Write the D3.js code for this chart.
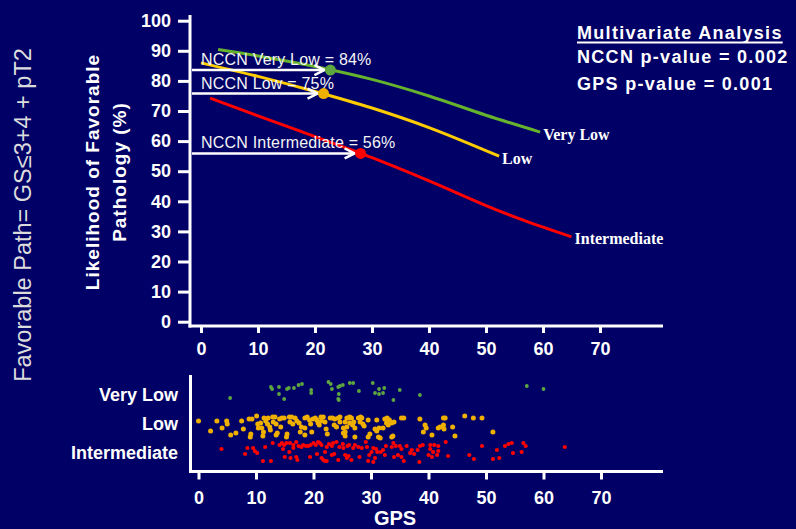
<!DOCTYPE html>
<html>
<head>
<meta charset="utf-8">
<script src="https://cdn.jsdelivr.net/npm/d3@7"></script>
<style>
  body { margin: 0; background: #000066; }
  svg { display: block; font-family: "Liberation Sans", Arial, sans-serif; }
</style>
</head>
<body>
<svg id="chart" width="796" height="529"></svg>
<script>
// NCCN risk groups
var groups = ["Very Low", "Low", "Intermediate"];
var groupRows = [76, 47, 18]; // row position of each group in the strip plot

// likelihood of favorable pathology (%) vs GPS, one curve per group
var veryLowCurve = [[3, 90.4], [10, 88.3], [20, 84.8], [30, 80.5], [40, 75], [50, 68.6], [59.5, 63]];
var lowCurve = [[0, 86], [10, 81.5], [20, 76.5], [30, 71], [40, 64.5], [52.3, 55]];
var intCurve = [[1.6, 74.3], [10, 68.4], [20, 61.5], [30, 54.5], [40, 46.8], [50, 38.6], [57, 33.4], [65, 28.2]];

// NCCN-only estimate for each group: [median GPS, %]
var nccnPoints = [[22.7, 83.6], [21.5, 75.8], [28, 55.9]];
var nccnLabels = ["NCCN Very Low = 84%", "NCCN Low = 75%", "NCCN Intermediate = 56%"];

var statLines = ["Multivariate Analysis", "NCCN p-value = 0.002", "GPS p-value = 0.001"];

var xTicks = [0, 10, 20, 30, 40, 50, 60, 70];
var yTicks = [0, 10, 20, 30, 40, 50, 60, 70, 80, 90, 100];

// individual patients: [GPS, jitter]
var veryLowDots = [[5.5,73],[12.6,84],[12.8,82],[14.0,84],[14.0,77],[14.9,72],[15.4,82],[15.7,83],[16.6,83],[17.4,86],
  [18.0,87],[19.6,81],[19.6,78],[22.6,89],[23.0,87],[23.2,82],[24.3,84],[24.6,85],[25.1,86],[24.4,77],[24.3,72],[24.4,71],
  [26.3,88],[26.9,88],[30.3,88],[27.9,80],[31.4,82],[32.3,83],[30.7,78],[31.4,77],[32.1,78],[35.0,81],[33.9,71],[38.5,76],
  [57.1,85],[60.0,82]];

var lowDots = [[0,50],[2.1,40],[3.2,50],[4.1,43],[4.9,50],[5.0,47],[5.6,36],[6.5,38],[7.5,50],[7.8,42],[8.8,52],[9.3,52],
  [9.1,37],[9.0,34],[10.1,55],[10.3,47],[10.4,43],[10.8,48],[11.0,43],[11.4,53],[11.7,50],[12.1,53],[11.3,39],[11.2,35],
  [12.0,47],[12.4,44],[12.5,41],[12.9,54],[13.3,54],[13.0,49],[13.5,47],[13.7,38],[13.5,36],[14.1,52],[14.5,53],[14.9,53],
  [14.3,44],[15.3,34],[15.4,37],[15.8,54],[16.2,54],[15.9,49],[16.4,47],[16.8,53],[17.1,50],[17.5,48],[17.9,44],[17.7,39],
  [18.5,53],[18.9,54],[19.3,51],[18.5,43],[18.5,36],[19.5,47],[19.7,39],[19.9,52],[20.3,53],[20.6,51],[20.8,48],[21.0,46],
  [21.3,54],[21.7,54],[21.4,50],[22.0,49],[22.2,42],[22.4,37],[22.9,53],[23.3,53],[23.7,52],[23.6,46],[24.0,44],[24.3,53],
  [24.6,54],[25.5,49],[25.8,53],[25.2,43],[25.5,39],[24.6,49],[25.8,44],[25.2,38],[25.5,35],[26.1,53],[26.3,54],[26.6,53],
  [26.3,48],[26.8,46],[27.0,49],[27.2,43],[27.2,34],[27.8,53],[28.2,54],[28.4,53],[28.1,49],[28.6,47],[28.8,45],[29.5,51],
  [29.5,34],[29.8,37],[30.7,42],[31.0,40],[31.0,51],[31.3,34],[31.6,33],[31.4,43],[32.1,43],[32.4,52],[32.8,53],[33.2,51],
  [32.7,48],[33.0,46],[33.6,48],[34.0,49],[33.6,34],[33.8,35],[35.3,53],[35.7,53],[38.5,52],[39.4,46],[39.6,43],[39.1,39],
  [40.6,36],[41.7,43],[42.0,44],[42.6,46],[42.6,53],[42.9,53],[42.7,42],[44.2,44],[44.6,35],[46.3,55],[47.8,53],[49.3,53],
  [51.2,39]];

var intDots = [[4.0,22],[8.1,17],[8.5,23],[9.5,23],[9.8,20],[10.2,18],[11.2,10],[11.6,24],[12.6,10],[12.9,28],[14.1,26],
  [14.5,28],[14.9,26],[15.3,28],[14.7,22],[15.0,14],[15.8,19],[16.0,13],[15.9,28],[16.5,26],[17.0,29],[16.5,23],[17.0,14],
  [17.4,25],[17.9,24],[18.2,26],[18.7,25],[19.1,25],[19.5,26],[17.2,11],[19.4,14],[20.0,28],[20.4,26],[20.8,29],[21.1,28],
  [21.4,26],[20.6,17],[21.4,13],[21.7,11],[22.0,10],[22.3,10],[22.0,19],[22.3,24],[22.7,27],[23.2,25],[23.4,28],[24.0,29],
  [23.2,16],[23.6,17],[24.5,24],[25.2,23],[24.3,11],[25.5,16],[25.9,25],[25.1,27],[25.8,13],[26.1,15],[26.2,26],[26.6,11],
  [26.9,23],[27.2,26],[27.8,24],[28.4,23],[28.0,14],[29.1,29],[29.3,24],[29.5,10],[29.7,16],[30.1,19],[30.4,23],[30.9,22],
  [30.7,13],[30.4,9],[31.1,19],[31.7,19],[32.1,21],[32.4,16],[32.6,25],[33.6,24],[33.9,28],[34.3,25],[34.0,14],[34.7,16],
  [35.0,25],[35.3,22],[35.3,14],[35.7,10],[36.2,25],[36.8,18],[37.1,21],[37.5,17],[38.1,21],[38.5,25],[38.4,9],[39.0,26],
  [40.0,16],[40.6,14],[40.8,19],[40.3,26],[41.0,26],[41.7,25],[41.5,16],[41.7,20],[40.3,22],[43.0,29],[43.4,15],[47.1,16],
  [47.9,12],[49.3,25],[51.2,12],[51.9,21],[52.3,13],[53.3,25],[53.9,27],[54.5,28],[54.7,18],[56.2,19],[56.5,28],[56.9,25],
  [63.7,24]];

var lineColors = ["#66b32e", "#ffcc00", "#ff0000"];
var dotColors = ["#5ea640", "#f0b000", "#ff0000"];
var dotRadius = [1.9, 2.5, 2.1];

var svg = d3.select("#chart");
var white = "#ffffff";

// ---------- top panel ----------
var x = d3.scaleLinear().domain([0, 70]).range([201, 600]);
var y = d3.scaleLinear().domain([0, 100]).range([321.7, 20.7]);

// axis lines (detached, prism style)
svg.append("line").attr("x1", 190).attr("x2", 190).attr("y1", 15).attr("y2", 327.5)
  .attr("stroke", white).attr("stroke-width", 3);
svg.append("line").attr("x1", 188.5).attr("x2", 663).attr("y1", 326).attr("y2", 326)
  .attr("stroke", white).attr("stroke-width", 3);

var yAxis = svg.append("g").attr("transform", "translate(190,0)")
  .call(d3.axisLeft(y).tickValues(yTicks).tickSize(12).tickSizeOuter(0).tickPadding(7));
var xAxis = svg.append("g").attr("transform", "translate(0,326)")
  .call(d3.axisBottom(x).tickValues(xTicks).tickSize(7).tickSizeOuter(0).tickPadding(9));

[yAxis, xAxis].forEach(function(a) {
  a.select(".domain").remove();
  a.selectAll(".tick line").attr("stroke", white).attr("stroke-width", 3);
  a.selectAll(".tick text").attr("fill", white).style("font-size", "18px").style("font-weight", "bold")
    .style("font-family", "'Liberation Sans', Arial, sans-serif");
});

var line = d3.line().x(function(d) { return x(d[0]); }).y(function(d) { return y(d[1]); })
  .curve(d3.curveCatmullRom.alpha(0.5));

var curves = [veryLowCurve, lowCurve, intCurve];
curves.forEach(function(c, i) {
  svg.append("path").datum(c).attr("d", line).attr("fill", "none")
    .attr("stroke", lineColors[i]).attr("stroke-width", 3);
  var last = c[c.length - 1];
  svg.append("text").attr("x", x(last[0]) + 3).attr("y", y(last[1]) + 4)
    .attr("dominant-baseline", "middle")
    .style("font-family", "'Liberation Serif', 'Times New Roman', serif")
    .style("font-weight", "bold").style("font-size", "16px")
    .attr("fill", white).text(groups[i]);
});

// NCCN arrows and markers
nccnPoints.forEach(function(p, i) {
  var py = y(p[1]);
  var tip = x(p[0]) - 6;
  svg.append("text").attr("x", x(0)).attr("y", py - 5)
    .style("font-size", "16px").style("letter-spacing", "0.2px").attr("fill", "#f4f4f4").text(nccnLabels[i]);
  svg.append("line").attr("x1", 192).attr("x2", tip).attr("y1", py).attr("y2", py)
    .attr("stroke", white).attr("stroke-width", 2.5);
  svg.append("path").attr("d", "M" + (tip - 10) + "," + (py - 5) + "L" + tip + "," + py + "L" + (tip - 10) + "," + (py + 5))
    .attr("fill", "none").attr("stroke", white).attr("stroke-width", 2.5);
  svg.append("circle").attr("cx", x(p[0])).attr("cy", py).attr("r", 5.5).attr("fill", dotColors[i]);
});

// axis titles
svg.append("text").attr("transform", "translate(23,215) rotate(-90)")
  .attr("text-anchor", "middle").attr("dominant-baseline", "central")
  .style("font-size", "23.5px").attr("fill", "#dcdcdc").text("Favorable Path= GS\u22643+4 + pT2");
svg.append("text").attr("transform", "translate(99,172) rotate(-90)")
  .attr("text-anchor", "middle").style("font-size", "19px").style("font-weight", "bold")
  .style("letter-spacing", "1px").attr("fill", white).text("Likelihood of Favorable");
svg.append("text").attr("transform", "translate(126,172) rotate(-90)")
  .attr("text-anchor", "middle").style("font-size", "19px").style("font-weight", "bold")
  .style("letter-spacing", "1px").attr("fill", white).text("Pathology (%)");

// multivariate block
var statY = [39, 63, 90];
statLines.forEach(function(s, i) {
  var t = svg.append("text").attr("x", 577).attr("y", statY[i])
    .style("font-size", "18px").style("font-weight", "bold").style("letter-spacing", "1.3px")
    .attr("fill", white).text(s);
  if (i === 0) {
    var w = t.node().getComputedTextLength();
    svg.append("line").attr("x1", 577).attr("x2", 577 + w).attr("y1", 42.5).attr("y2", 42.5)
      .attr("stroke", white).attr("stroke-width", 2);
  }
});

// ---------- bottom strip panel ----------
var xs = d3.scaleLinear().domain([0, 70]).range([198.5, 601]);
var ys = d3.scaleLinear().domain([0, 96]).range([471, 375]);

svg.append("line").attr("x1", 190.5).attr("x2", 190.5).attr("y1", 375).attr("y2", 473)
  .attr("stroke", white).attr("stroke-width", 3);
svg.append("line").attr("x1", 189).attr("x2", 663).attr("y1", 471.5).attr("y2", 471.5)
  .attr("stroke", white).attr("stroke-width", 3);

var xsAxis = svg.append("g").attr("transform", "translate(0,471.5)")
  .call(d3.axisBottom(xs).tickValues(xTicks).tickSize(8).tickSizeOuter(0).tickPadding(12));
var ysAxis = svg.append("g").attr("transform", "translate(190,0)")
  .call(d3.axisLeft(ys).tickValues(groupRows).tickFormat(function(d, i) { return groups[i]; })
    .tickSize(0).tickPadding(12));

[xsAxis, ysAxis].forEach(function(a) {
  a.select(".domain").remove();
  a.selectAll(".tick line").attr("stroke", white).attr("stroke-width", 3);
  a.selectAll(".tick text").attr("fill", white).style("font-size", "18px").style("font-weight", "bold")
    .style("font-family", "'Liberation Sans', Arial, sans-serif");
});

[intDots, lowDots, veryLowDots].forEach(function(set, k) {
  var i = 2 - k;
  svg.append("g").selectAll("circle").data(set).enter().append("circle")
    .attr("cx", function(d) { return xs(d[0]); })
    .attr("cy", function(d) { return ys(d[1]); })
    .attr("r", dotRadius[i]).attr("fill", dotColors[i]);
});

svg.append("text").attr("x", 395).attr("y", 525).attr("text-anchor", "middle")
  .style("font-size", "20px").style("font-weight", "bold").attr("fill", white).text("GPS");
</script>
</body>
</html>
